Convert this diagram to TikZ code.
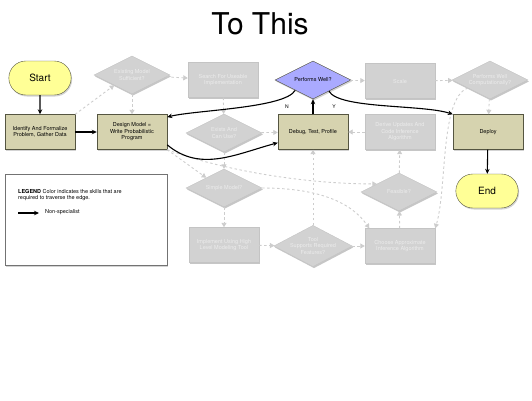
\documentclass[tikz,border=0pt]{standalone}
\usepackage{fontspec}
\setmainfont{TeX Gyre Heros}
\usetikzlibrary{shapes.geometric,shapes.misc,arrows.meta,shadows}
\definecolor{khaki}{RGB}{214,211,175}
\definecolor{khakiline}{RGB}{85,85,65}
\definecolor{termfill}{RGB}{255,255,150}
\definecolor{wellfill}{RGB}{170,170,255}
\definecolor{greyfill}{RGB}{210,210,210}
\definecolor{greyline}{RGB}{196,196,196}
\definecolor{greytext}{RGB}{236,236,236}
\definecolor{greyedge}{RGB}{205,205,205}
\begin{document}
\begin{tikzpicture}[x=1pt, y=1pt,
    small/.style={font=\fontsize{5.5}{6.5}\selectfont},
    shade/.style={drop shadow={opacity=0.35, shadow xshift=1pt, shadow yshift=-1.5pt}},
    box/.style={small, shade, draw=khakiline, fill=khaki, minimum width=70pt, minimum height=35pt, align=center, inner sep=1pt},
    term/.style={shade, rounded rectangle, draw=khakiline, fill=termfill, minimum width=69pt, minimum height=34pt, font=\fontsize{10}{12}\selectfont},
    ask/.style={small, shade, diamond, aspect=1.9, draw=khakiline, fill=wellfill, minimum width=76pt, minimum height=38pt, align=center, inner sep=0pt},
    gbox/.style={box, draw=greyline, fill=greyfill, text=greytext, drop shadow={opacity=0.15, shadow xshift=1pt, shadow yshift=-1.5pt}},
    gask/.style={ask, draw=greyline, fill=greyfill, text=greytext, drop shadow={opacity=0.15, shadow xshift=1pt, shadow yshift=-1.5pt}},
    go/.style={-{Stealth[length=5pt, width=4.5pt]}, line width=1.1pt},
    may/.style={-{Triangle[length=4.5pt, width=5pt]}, draw=greyedge, line width=0.9pt, dash pattern=on 2.5pt off 2.5pt},
    lbl/.style={font=\fontsize{5}{6}\selectfont}]
    \useasboundingbox (0,0) rectangle (532,400);
    \node (title) at (260,376) {\fontsize{30}{34}\selectfont To This};
    \node[term] (start) at (40,322) {Start};
    \node[box] (ident) at (40,268) {Identify And Formalize\\Problem, Gather Data};
    \node[box] (design) at (132,268) {Design Model =\\Write Probabilistic\\Program};
    \node[gask] (exist) at (132,325) {Existing Model\\Sufficient?};
    \node[gbox] (search) at (223,320) {Search For Useable\\Implementation};
    \node[gask] (canuse) at (224,267) {Exists And\\Can Use?};
    \node[gask] (simple) at (224,212) {Simple Model?};
    \node[gbox] (highlvl) at (224,155) {Implement Using High\\Level Modeling Tool};
    \node[ask] (well) at (313,320) {Performs Well?};
    \node[gbox] (scale) at (400,319) {Scale};
    \node[gask] (comput) at (490,320) {Performs Well\\Computationally?};
    \node[box] (debug) at (313,268) {Debug, Test, Profile};
    \node[gbox] (derive) at (400,268) {Derive Updates And\\Code Inference\\Algorithm};
    \node[box] (deploy) at (488,268) {Deploy};
    \node[term] (finish) at (487,209) {End};
    \node[gask] (feasible) at (399,208) {Feasible?};
    \node[gask] (tool) at (313,154) {Tool\\Supports Required\\Features?};
    \node[gbox] (choose) at (400,154) {Choose Approximate\\Inference Algorithm};
    \node[shade, draw=black!55, fill=white, minimum width=162pt, minimum height=91pt] (legend) at (86,180) {};
    \node[small, anchor=north west, align=left, inner sep=0pt] (legtext) at (18,211) {\textbf{LEGEND} Color indicates the skills that are\\required to traverse the edge.};
    \coordinate (ka) at (18,187);
    \coordinate (kb) at (39,187);
    \node[small, anchor=west, inner sep=0pt] (knon) at (45,188) {Non-specialist};
    \node[lbl] (nlab) at (287,293) {N};
    \node[lbl] (ylab) at (334,293) {Y};
    \draw [may] (ident.north east) to (exist.-150);
    \draw [may] (exist) to (search);
    \draw [may] (exist) to (design);
    \draw [may] (search) to (canuse);
    \draw [may] (canuse) to (debug);
    \draw [may] (canuse) to (simple);
    \draw [may] (design.south east) to (simple.150);
    \draw [may] (design.south east) to[out=-20, in=180, looseness=0.8] (feasible.160);
    \draw [may] (simple.east) to[out=0, in=125, looseness=0.9] (choose.150);
    \draw [may] (simple) to (highlvl);
    \draw [may] (highlvl) to (tool);
    \draw [may] (tool) to (choose);
    \draw [may] (tool) to (debug);
    \draw [may] (choose) to (feasible);
    \draw [may] (feasible) to (derive);
    \draw [may] (derive) to (debug);
    \draw [may] (well) to (scale);
    \draw [may] (scale) to (comput);
    \draw [may] (comput) to (deploy);
    \draw [may] (comput.-160) .. controls +(-28,-10) and +(12,40) .. (choose.north east);
    \draw [go] (start) to (ident);
    \draw [go] (ident) to (design);
    \draw [go] (design.-20) to[out=-40, in=195] (debug.-163);
    \draw [go] (debug) to (well);
    \draw [go] (well.-150) .. controls +(-10,-18) and +(28,7) .. (design.23);
    \draw [go] (well.-35) .. controls +(10,-18) and +(-30,10) .. (deploy.north west);
    \draw [go] (deploy) to (finish);
    \draw [go] (ka) to (kb);
\end{tikzpicture}
\end{document}
